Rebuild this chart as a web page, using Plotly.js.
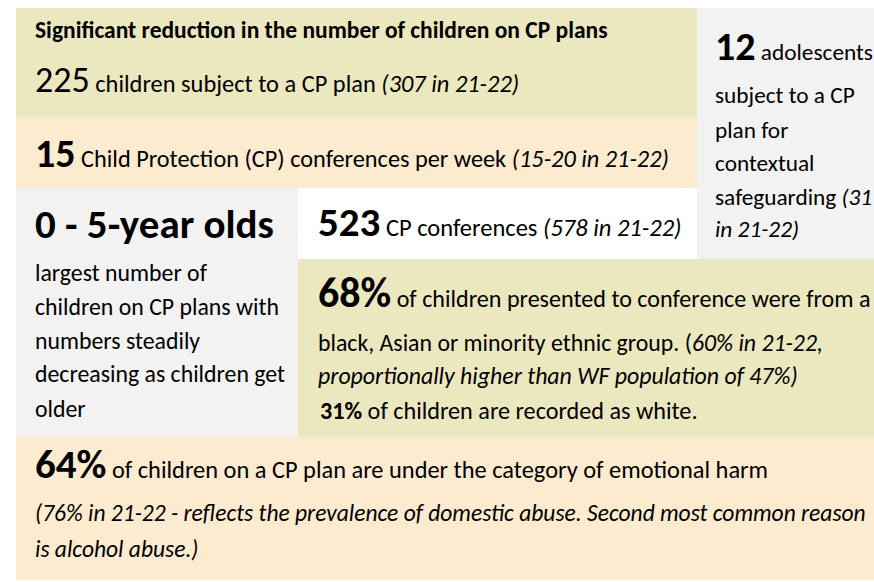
<!DOCTYPE html>
<html><head><meta charset="utf-8">
<script src="https://cdn.plot.ly/plotly-3.0.1.min.js"></script>
<style>html,body{margin:0;padding:0;background:#fff;}#chart{width:874px;height:582px;}</style>
</head><body><div id="chart"></div>
<script>
// Key figures (current year) and comparison (21-22)
const statLabels = ['childrenOnPlan','confPerWeek','adolescents','conferences','bameShare','whiteShare','emotionalHarm'];
const statValues = ['225','15','12','523','68%','31%','64%'];
const prevValues = ['307','15-20','31','578','60%','','76%'];
const wfPopulation = ['47%'];
const ageGroup = ['0 - 5-year olds'];

const FONT = 'Calibri, Carlito, Lato, "Open Sans", sans-serif';
const big = (s, sz) => '<span style="font-size:' + sz + 'px">' + s + '</span>';

const lines = [
  // [x, y, html, size]
  [33, 30, '<b>Significant reduction in the number of children on CP plans</b>', 23.5],
  [33, 80, big(statValues[0], 36) + ' children subject to a CP plan <i>(' + prevValues[0] + ' in 21-22)</i>', 24.4],
  [33, 153, '<b>' + big(statValues[1], 40) + '</b> Child Protection (CP) conferences per week <i>(' + prevValues[1] + ' in 21-22)</i>', 24.3],
  [713, 46, '<b>' + big(statValues[2], 40) + '</b> adolescents', 23.3],
  [713, 95, 'subject to a CP', 23.3],
  [713, 130, 'plan for', 23.3],
  [713, 163, 'contextual', 23.3],
  [713, 197, 'safeguarding <i>(' + prevValues[2] + '</i>', 23.3],
  [713, 229, '<i>in 21-22)</i>', 23.3],
  [33, 224, '<b>' + big(ageGroup[0], 41) + '</b>', 24],
  [33, 272, 'largest number of', 23.8],
  [33, 306, 'children on CP plans with', 23.8],
  [33, 340, 'numbers steadily', 23.8],
  [33, 373, 'decreasing as children get', 23.8],
  [33, 408, 'older', 23.8],
  [316, 222, '<b>' + big(statValues[3], 41) + '</b> CP conferences <i>(' + prevValues[3] + ' in 21-22)</i>', 24.5],
  [316, 292, '<b>' + big(statValues[4], 42) + '</b> of children presented to conference were from a', 24.1],
  [316, 342, 'black, Asian or minority ethnic group. (<i>' + prevValues[4] + ' in 21-22,</i>', 23.8],
  [316, 375, '<i>proportionally higher than WF population of ' + wfPopulation[0] + ')</i>', 23.8],
  [318, 410, '<b>' + statValues[5] + '</b> of children are recorded as white.', 24.2],
  [33, 464, '<b>' + big(statValues[6], 41) + '</b> of children on a CP plan are under the category of emotional harm', 24.4],
  [33, 513, '<i>(' + prevValues[6] + ' in 21-22 - reflects the prevalence of domestic abuse. Second most common reason</i>', 23.5],
  [33, 549, '<i>is alcohol abuse.)</i>', 23.5]
];

const boxes = [
  [16, 8, 697, 117, '#EBE8C0'],
  [16, 117, 697, 188, '#FDEBD0'],
  [697, 8, 874, 259, '#F2F2F2'],
  [16, 188, 298, 437, '#F2F2F2'],
  [298, 259, 874, 437, '#EBE8C0'],
  [16, 437, 874, 580, '#FDEBD0']
];

const shapes = boxes.map(b => ({type:'rect', xref:'x', yref:'y', x0:b[0], y0:b[1], x1:b[2], y1:b[3],
  fillcolor:b[4], line:{width:0}, layer:'below'}));
const annotations = lines.map(l => ({xref:'x', yref:'y', x:l[0], y:l[1], text:l[2], showarrow:false,
  xanchor:'left', yanchor:'middle', align:'left', font:{family:FONT, size:l[3], color:'#000'}}));

Plotly.newPlot('chart', [{x:[0], y:[0], mode:'markers', marker:{opacity:0}, hoverinfo:'skip', showlegend:false}], {
  width:874, height:582, margin:{l:0,r:0,t:0,b:0},
  paper_bgcolor:'#fff', plot_bgcolor:'#fff',
  xaxis:{range:[0,874], visible:false, fixedrange:true},
  yaxis:{range:[582,0], visible:false, fixedrange:true},
  shapes:shapes, annotations:annotations, showlegend:false
}, {displayModeBar:false, staticPlot:true});
</script></body></html>
